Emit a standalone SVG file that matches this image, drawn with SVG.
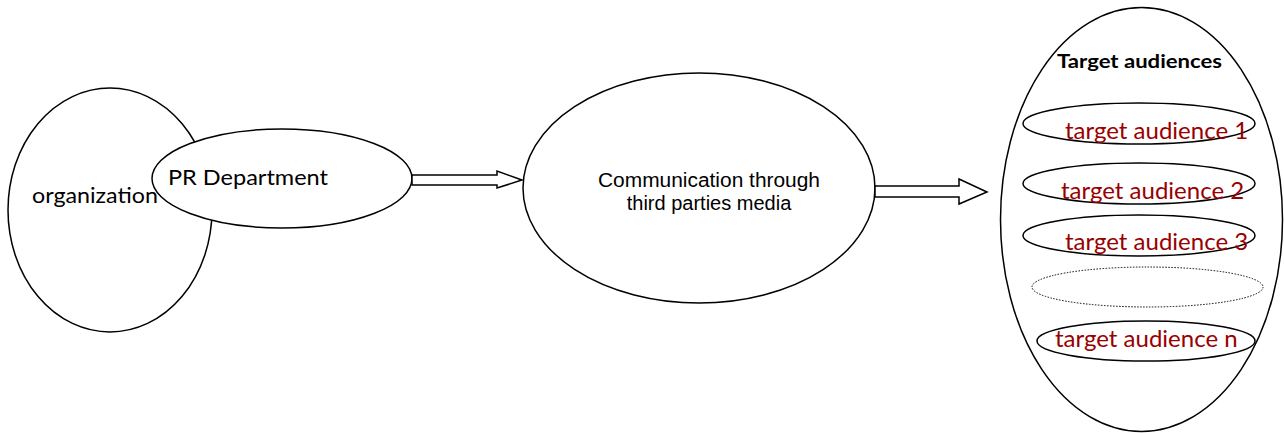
<svg xmlns="http://www.w3.org/2000/svg" width="1284" height="433" viewBox="0 0 1284 433">
<style>
.n{fill:#fff;stroke:#000;stroke-width:1.5}
.a{fill:#fff;stroke:#000;stroke-width:1.5;stroke-linejoin:miter}
.t{font-family:Lato,"Liberation Sans",sans-serif;fill:#000}
.r{font-family:Lato,"Liberation Sans",sans-serif;fill:#990000;font-size:24px}
.c{font-family:"Liberation Sans",Arial,sans-serif;font-size:20px;fill:#000;text-anchor:middle}
</style>
<rect width="1284" height="433" fill="#fff"/>
<g id="organization">
<ellipse class="n" cx="110" cy="210" rx="102" ry="122"/>
<text class="t" x="32" y="203" font-size="21.5" textLength="126" lengthAdjust="spacingAndGlyphs">organization</text>
</g>
<g id="pr-department">
<ellipse class="n" cx="282" cy="178.5" rx="130" ry="49.5"/>
<text class="t" x="168" y="185" font-size="21.5" textLength="160" lengthAdjust="spacingAndGlyphs">PR Department</text>
</g>
<g id="communication">
<ellipse class="n" cx="699" cy="188" rx="176" ry="115"/>
<text class="c" x="709" y="187" textLength="222" lengthAdjust="spacingAndGlyphs">Communication through</text>
<text class="c" x="709" y="210">third parties media</text>
</g>
<g id="target-audiences">
<ellipse class="n" cx="1141.5" cy="219.5" rx="141" ry="212"/>
<text class="t" x="1057" y="68" font-size="18.5" font-weight="bold" textLength="165" lengthAdjust="spacingAndGlyphs">Target audiences</text>
<g id="ta1">
<ellipse class="n" cx="1139" cy="123.5" rx="116" ry="20.5"/>
<text class="r" x="1065" y="138.5">target audience 1</text>
</g>
<g id="ta2">
<ellipse class="n" cx="1139" cy="183.5" rx="116" ry="20.5"/>
<text class="r" x="1061" y="198.5">target audience 2</text>
</g>
<g id="ta3">
<ellipse class="n" cx="1139" cy="235.5" rx="116" ry="20.5"/>
<text class="r" x="1065" y="249.5">target audience 3</text>
</g>
<g id="ta-dots">
<ellipse cx="1147.5" cy="287" rx="115.5" ry="20" fill="#fff" stroke="#000" stroke-width="1" stroke-dasharray="1.5 1.5"/>
</g>
<g id="tan">
<ellipse class="n" cx="1146" cy="341" rx="109" ry="20"/>
<text class="r" x="1055" y="346.5">target audience n</text>
</g>
</g>
<g id="connectors">
<path class="a" d="M412,175 L497,175 L497,171 L522,180 L497,188 L497,185 L412,185 Z"/>
<path class="a" d="M875,186 L959,186 L959,179 L987,192 L959,204 L959,197 L875,197 Z"/>
</g>
</svg>
